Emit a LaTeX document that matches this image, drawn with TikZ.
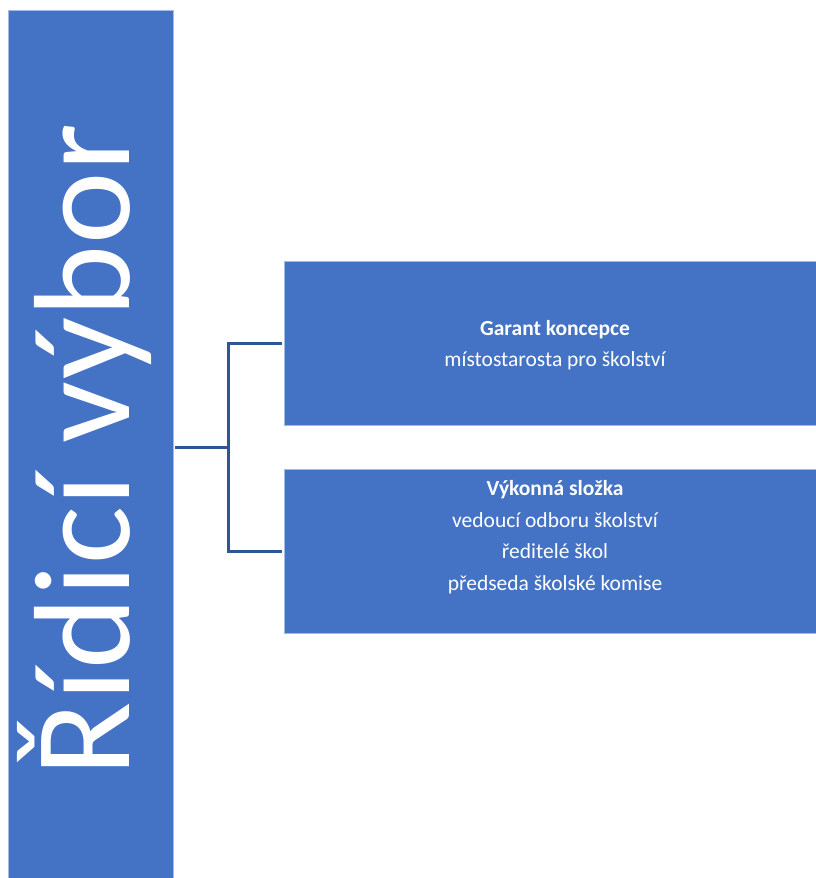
\documentclass[tikz,border=0pt]{standalone}
\usepackage{fontspec}
\setmainfont{Carlito}
\definecolor{boxblue}{HTML}{4472C4}
\definecolor{lineblue}{HTML}{2F5597}
\definecolor{edgeblue}{RGB}{165,185,228}
\tikzset{
  bluebox/.style={rectangle, fill=boxblue, draw=edgeblue, line width=0.8pt, inner sep=0pt, anchor=north west},
  boxtext/.style={text=white, align=center, inner sep=0pt, font=\fontsize{21.5}{31.5}\selectfont},
  conn/.style={draw=lineblue, line width=3pt}
}
\begin{document}
\begin{tikzpicture}[x=1pt,y=-1pt]
\clip (0,0) rectangle (816,878);
\fill[white] (0,0) rectangle (816,878);
% left bar
\node[bluebox, minimum width=165pt, minimum height=874pt] (bar) at (8,10) {};
\node[rotate=90, anchor=base, text=white, inner sep=0pt, font=\fontsize{137}{137}\selectfont\addfontfeature{LetterSpace=0.5}] (title) at (129,450) {Řídicí výbor};
% boxes
\node[bluebox, minimum width=542pt, minimum height=164pt] (b1) at (284,261) {};
\node[bluebox, minimum width=542pt, minimum height=164pt] (b2) at (284,469) {};
\node[boxtext] (t1) at (555,345) {\textbf{Garant koncepce}\\místostarosta pro školství};
\node[boxtext] (t2) at (555,537) {\textbf{Výkonná složka}\\vedoucí odboru školství\\ředitelé škol\\předseda školské komise};
% connectors
\coordinate (j) at (228,447);
\draw[conn] (175,447) -- (j);
\draw[conn] ([xshift=-2pt]b1.west) -| (j) |- ([xshift=-2pt]b2.west);
\end{tikzpicture}
\end{document}
